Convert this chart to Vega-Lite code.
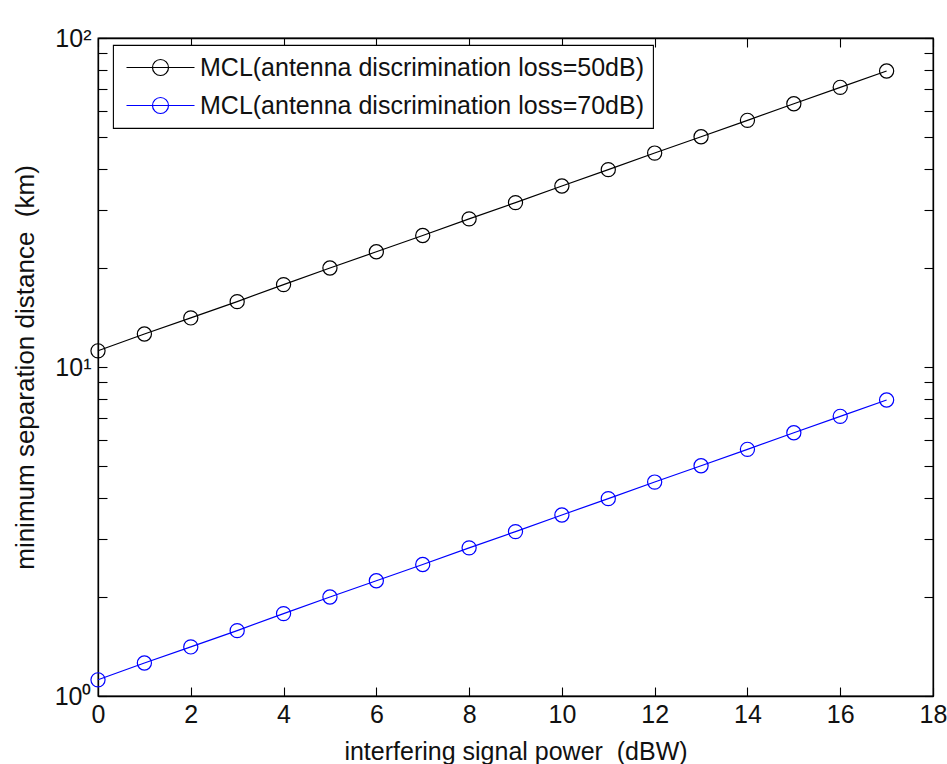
{
  "$schema": "https://vega.github.io/schema/vega-lite/v6.json",
  "width": 835,
  "height": 658,
  "autosize": {"type": "none"},
  "padding": {"left": 98, "top": 38, "right": 14, "bottom": 68},
  "background": "white",
  "config": {
    "font": "Liberation Sans",
    "view": {"stroke": "black", "strokeWidth": 1.3},
    "axis": {
      "grid": false,
      "domainColor": "black",
      "domainWidth": 1.3,
      "tickColor": "black",
      "tickWidth": 1.1,
      "tickSize": -9,
      "labelFont": "Liberation Sans",
      "labelFontSize": 25,
      "labelColor": "#111111",
      "titleFont": "Liberation Sans",
      "titleFontSize": 25,
      "titleFontWeight": "normal",
      "titleColor": "#111111"
    },
    "legend": {
      "orient": "none",
      "legendX": 15,
      "legendY": 7,
      "strokeColor": "black",
      "strokeWidth": 1.1,
      "fillColor": "white",
      "padding": 9,
      "labelFont": "Liberation Sans",
      "labelFontSize": 25,
      "labelColor": "#111111",
      "labelLimit": 600,
      "symbolSize": 625,
      "symbolOffset": 25,
      "labelOffset": 26,
      "rowPadding": 11,
      "symbolStrokeWidth": 1.2,
      "symbolType": "M-2.72,0H2.72M-0.64,0A0.64,0.64,0,1,0,0.64,0A0.64,0.64,0,1,0,-0.64,0",
      "symbolFillColor": "transparent"
    }
  },
  "data": {
    "values": [
      {"p": 0, "d": 11.2, "s": "MCL(antenna discrimination loss=50dB)"},
      {"p": 1, "d": 12.6, "s": "MCL(antenna discrimination loss=50dB)"},
      {"p": 2, "d": 14.1, "s": "MCL(antenna discrimination loss=50dB)"},
      {"p": 3, "d": 15.8, "s": "MCL(antenna discrimination loss=50dB)"},
      {"p": 4, "d": 17.8, "s": "MCL(antenna discrimination loss=50dB)"},
      {"p": 5, "d": 20.0, "s": "MCL(antenna discrimination loss=50dB)"},
      {"p": 6, "d": 22.4, "s": "MCL(antenna discrimination loss=50dB)"},
      {"p": 7, "d": 25.1, "s": "MCL(antenna discrimination loss=50dB)"},
      {"p": 8, "d": 28.2, "s": "MCL(antenna discrimination loss=50dB)"},
      {"p": 9, "d": 31.6, "s": "MCL(antenna discrimination loss=50dB)"},
      {"p": 10, "d": 35.5, "s": "MCL(antenna discrimination loss=50dB)"},
      {"p": 11, "d": 39.8, "s": "MCL(antenna discrimination loss=50dB)"},
      {"p": 12, "d": 44.7, "s": "MCL(antenna discrimination loss=50dB)"},
      {"p": 13, "d": 50.1, "s": "MCL(antenna discrimination loss=50dB)"},
      {"p": 14, "d": 56.2, "s": "MCL(antenna discrimination loss=50dB)"},
      {"p": 15, "d": 63.1, "s": "MCL(antenna discrimination loss=50dB)"},
      {"p": 16, "d": 70.8, "s": "MCL(antenna discrimination loss=50dB)"},
      {"p": 17, "d": 79.4, "s": "MCL(antenna discrimination loss=50dB)"},
      {"p": 0, "d": 1.12, "s": "MCL(antenna discrimination loss=70dB)"},
      {"p": 1, "d": 1.26, "s": "MCL(antenna discrimination loss=70dB)"},
      {"p": 2, "d": 1.41, "s": "MCL(antenna discrimination loss=70dB)"},
      {"p": 3, "d": 1.58, "s": "MCL(antenna discrimination loss=70dB)"},
      {"p": 4, "d": 1.78, "s": "MCL(antenna discrimination loss=70dB)"},
      {"p": 5, "d": 2.00, "s": "MCL(antenna discrimination loss=70dB)"},
      {"p": 6, "d": 2.24, "s": "MCL(antenna discrimination loss=70dB)"},
      {"p": 7, "d": 2.51, "s": "MCL(antenna discrimination loss=70dB)"},
      {"p": 8, "d": 2.82, "s": "MCL(antenna discrimination loss=70dB)"},
      {"p": 9, "d": 3.16, "s": "MCL(antenna discrimination loss=70dB)"},
      {"p": 10, "d": 3.55, "s": "MCL(antenna discrimination loss=70dB)"},
      {"p": 11, "d": 3.98, "s": "MCL(antenna discrimination loss=70dB)"},
      {"p": 12, "d": 4.47, "s": "MCL(antenna discrimination loss=70dB)"},
      {"p": 13, "d": 5.01, "s": "MCL(antenna discrimination loss=70dB)"},
      {"p": 14, "d": 5.62, "s": "MCL(antenna discrimination loss=70dB)"},
      {"p": 15, "d": 6.31, "s": "MCL(antenna discrimination loss=70dB)"},
      {"p": 16, "d": 7.08, "s": "MCL(antenna discrimination loss=70dB)"},
      {"p": 17, "d": 7.94, "s": "MCL(antenna discrimination loss=70dB)"}
    ]
  },
  "layer": [
    {
      "mark": {"type": "line", "strokeWidth": 1.2},
      "encoding": {
        "x": {"field": "p", "type": "quantitative", "scale": {"domain": [0, 18], "nice": false, "zero": false},
              "axis": {"values": [0, 2, 4, 6, 8, 10, 12, 14, 16, 18], "title": "interfering signal power \u00a0(dBW)", "labelPadding": 15, "titlePadding": 12, "labelFlush": false}},
        "y": {"field": "d", "type": "quantitative", "scale": {"type": "log", "domain": [1, 100], "nice": false},
              "axis": {"values": [1, 2, 3, 4, 5, 6, 7, 8, 9, 10, 20, 30, 40, 50, 60, 70, 80, 90, 100],
                       "labelExpr": "datum.value == 1 ? '10⁰' : datum.value == 10 ? '10¹' : datum.value == 100 ? '10²' : ''",
                       "title": "minimum separation distance \u00a0(km)", "labelPadding": 16, "titlePadding": 16, "titleFontSize": 26, "labelFlush": false}},
        "color": {"field": "s", "type": "nominal",
                  "scale": {"domain": ["MCL(antenna discrimination loss=50dB)", "MCL(antenna discrimination loss=70dB)"], "range": ["#000000", "#0000ff"]},
                  "legend": {"title": null}}
      }
    },
    {
      "mark": {"type": "point", "shape": "circle", "filled": false, "size": 200, "strokeWidth": 1.2, "opacity": 1},
      "encoding": {
        "x": {"field": "p", "type": "quantitative", "axis": null},
        "y": {"field": "d", "type": "quantitative", "axis": null},
        "color": {"field": "s", "type": "nominal", "legend": {"title": null}}
      }
    },
    {
      "mark": {"type": "line", "opacity": 0},
      "encoding": {
        "x": {"field": "p", "type": "quantitative",
              "axis": {"orient": "top", "values": [0, 2, 4, 6, 8, 10, 12, 14, 16, 18], "labels": false, "title": null}},
        "y": {"field": "d", "type": "quantitative",
              "axis": {"orient": "right", "values": [1, 2, 3, 4, 5, 6, 7, 8, 9, 10, 20, 30, 40, 50, 60, 70, 80, 90, 100], "labels": false, "title": null}},
        "detail": {"field": "s", "type": "nominal"}
      }
    }
  ],
  "resolve": {"axis": {"x": "independent", "y": "independent"}}
}
